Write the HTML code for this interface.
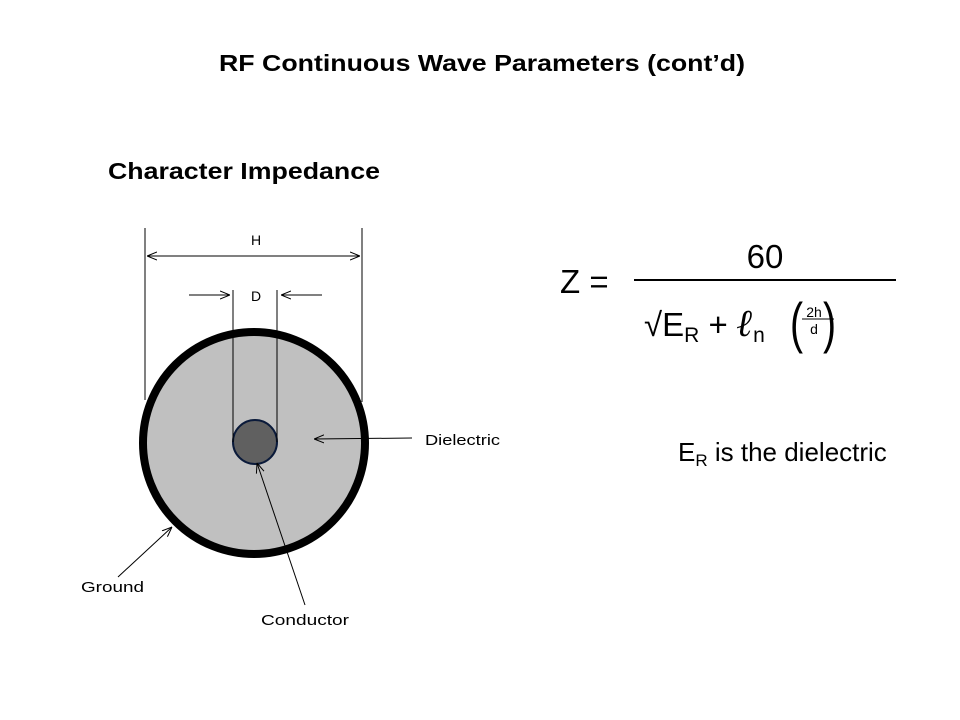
<!DOCTYPE html>
<html><head><meta charset="utf-8"><style>html,body{margin:0;padding:0;background:#fff}svg{display:block}</style></head>
<body>
<svg width="960" height="720" viewBox="0 0 960 720" xmlns="http://www.w3.org/2000/svg" font-family="Liberation Sans, Arial, sans-serif">
<defs>
<marker id="a" viewBox="0 0 10 10" refX="10" refY="5" markerWidth="10" markerHeight="10" orient="auto" markerUnits="userSpaceOnUse"><path d="M0,1 L10,5 L0,9" fill="none" stroke="#000" stroke-width="1"/></marker>
</defs>
<text x="219" y="71" font-size="23" font-weight="bold" textLength="526" lengthAdjust="spacingAndGlyphs">RF Continuous Wave Parameters (cont’d)</text>
<text x="108" y="179" font-size="23" font-weight="bold" textLength="272" lengthAdjust="spacingAndGlyphs">Character Impedance</text>

<circle cx="254" cy="443" r="111" fill="#c0c0c0" stroke="#000" stroke-width="8"/>
<circle cx="255" cy="442" r="22" fill="#606060" stroke="#0a1a3a" stroke-width="2"/>
<g stroke="#000" stroke-width="1" fill="none">
<line x1="145" y1="228" x2="145" y2="400"/>
<line x1="362" y1="228" x2="362" y2="402"/>
<line x1="233" y1="290" x2="233" y2="442"/>
<line x1="277" y1="290" x2="277" y2="442"/>
<line x1="147" y1="256" x2="360" y2="256" marker-end="url(#a)"/>
<line x1="360" y1="256" x2="147" y2="256" marker-end="url(#a)"/>
<line x1="189" y1="295" x2="230" y2="295" marker-end="url(#a)"/>
<line x1="322" y1="295" x2="281" y2="295" marker-end="url(#a)"/>
<line x1="412" y1="438" x2="314" y2="439" marker-end="url(#a)"/>
<line x1="118" y1="577" x2="172" y2="527" marker-end="url(#a)"/>
<line x1="305" y1="605" x2="257" y2="463" marker-end="url(#a)"/>
</g>
<text x="256" y="245" font-size="14" text-anchor="middle">H</text>
<text x="256" y="301" font-size="14" text-anchor="middle">D</text>
<text x="425" y="445" font-size="15" textLength="75" lengthAdjust="spacingAndGlyphs">Dielectric</text>
<text x="81" y="592" font-size="15" textLength="63" lengthAdjust="spacingAndGlyphs">Ground</text>
<text x="261" y="625" font-size="15" textLength="88" lengthAdjust="spacingAndGlyphs">Conductor</text>

<text x="560" y="293" font-size="33">Z =</text>
<line x1="634" y1="280" x2="896" y2="280" stroke="#000" stroke-width="2"/>
<text x="765" y="268" font-size="33" text-anchor="middle">60</text>
<text x="644" y="336" font-size="33">√E<tspan font-size="21" dy="6">R</tspan><tspan dy="-6"> + </tspan><tspan font-style="italic" font-weight="bold" font-family="Liberation Serif, serif" font-size="38">ℓ</tspan><tspan font-size="21" dy="6">n</tspan></text>
<text x="790" y="342" font-size="56" transform="translate(790 330) scale(0.7 1) translate(-790 -330)">(</text>
<text x="823" y="342" font-size="56" transform="translate(823 330) scale(0.7 1) translate(-823 -330)">)</text>
<text x="814" y="317" font-size="14" text-anchor="middle">2h</text>
<line x1="802" y1="319" x2="834" y2="319" stroke="#000" stroke-width="1"/>
<text x="814" y="334" font-size="14" text-anchor="middle">d</text>

<text x="678" y="461" font-size="26">E<tspan font-size="17" dy="5">R</tspan><tspan dy="-5"> is the dielectric</tspan></text>
</svg>
</body></html>
